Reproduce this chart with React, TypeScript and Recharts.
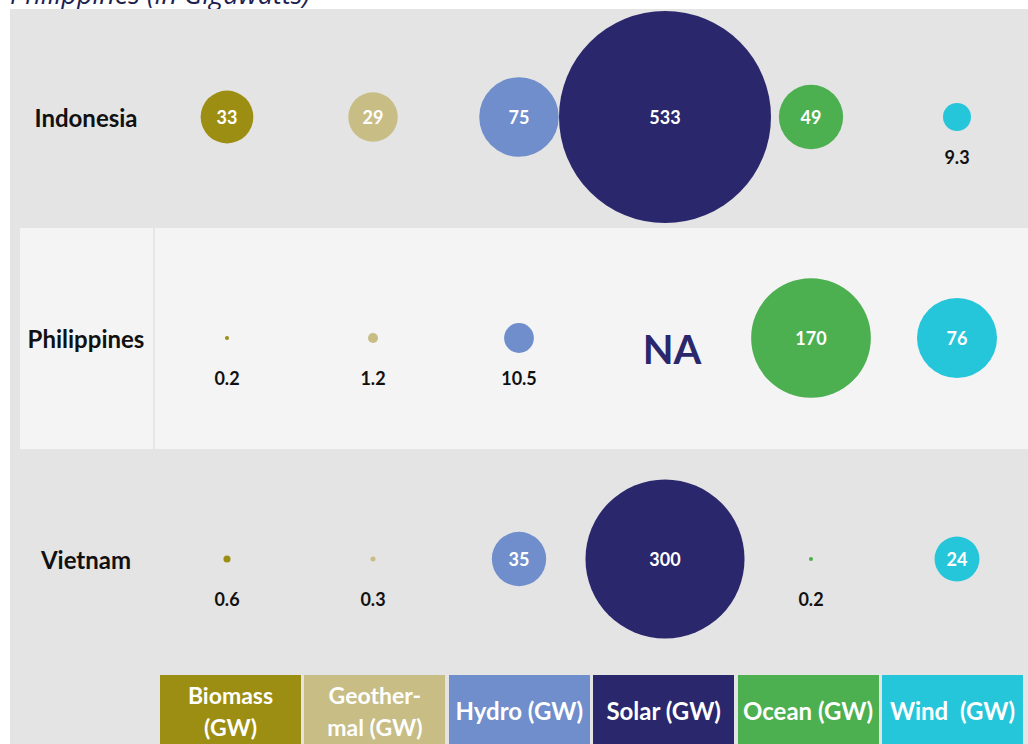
import React from "react";
import { ScatterChart, Scatter, XAxis, YAxis, ZAxis } from "recharts";

const countries = ["Indonesia", "Philippines", "Vietnam"];
const sourceLabels = [
  ["Biomass", "(GW)"],
  ["Geother-", "mal (GW)"],
  ["Hydro (GW)"],
  ["Solar (GW)"],
  ["Ocean (GW)"],
  ["Wind  (GW)"],
];
const biomass = [33, 0.2, 0.6];
const geothermal = [29, 1.2, 0.3];
const hydro = [75, 10.5, 35];
const solar = [533, null, 300];
const ocean = [49, 170, 0.2];
const wind = [9.3, 76, 24];
const colors = ["#9c8e12", "#c7bd85", "#6f8ecb", "#2a276d", "#4caf50", "#26c6da"];

const seriesValues = [biomass, geothermal, hydro, solar, ocean, wind];

const series = seriesValues.map((values, col) => ({
  name: sourceLabels[col].join(" "),
  color: colors[col],
  data: values.map((value, row) => ({ col, row, value })),
}));

const FONT = "Lato, 'Open Sans', sans-serif";

const makeBubble = (color: string) => (props: any) => {
  const { cx, cy, width, payload } = props;
  if (payload.value == null) {
    return (
      <text x={cx + 7} y={cy + 26} textAnchor="middle" fontFamily={FONT}
        fontSize={40} fontWeight={700} fill={color}>
        NA
      </text>
    );
  }
  const r = width / 2;
  const inside = payload.value >= 20;
  return (
    <g>
      <circle cx={cx} cy={cy} r={r} fill={color} />
      <text
        x={cx}
        y={inside ? cy : cy + 40}
        textAnchor="middle"
        dominantBaseline="central"
        fontFamily={FONT}
        fontSize={18}
        fontWeight={700}
        fill={inside ? "#ffffff" : "#111111"}>
        {String(payload.value)}
      </text>
    </g>
  );
};

const CountryTick = ({ y, payload }: any) => (
  <text x={86} y={y} textAnchor="middle" dominantBaseline="central"
    fontFamily={FONT} fontSize={24} fontWeight={700} fill="#111111">
    {countries[payload.value]}
  </text>
);

export default function App() {
  return (
    <div
      style={{
        position: "fixed",
        left: 0,
        top: 0,
        width: 1028,
        height: 744,
        overflow: "hidden",
        background: "#ffffff",
        fontFamily: FONT,
      }}>
      <div
        style={{
          position: "absolute",
          left: 10,
          top: -18,
          fontFamily: "'Open Sans', sans-serif",
          fontSize: 27,
          lineHeight: "24px",
          fontStyle: "italic",
          color: "#1e1e50",
          whiteSpace: "nowrap",
        }}>
        Philippines (in Gigawatts)
      </div>
      <div style={{ position: "absolute", left: 10, top: 9, right: 0, bottom: 0, background: "#e4e4e4" }} />
      <div style={{ position: "absolute", left: 20, top: 228, width: 1008, height: 221, background: "#f4f4f4" }} />
      <div style={{ position: "absolute", left: 153, top: 228, width: 2, height: 221, background: "#e6e6e6" }} />

      <div style={{ position: "absolute", left: 0, top: 0 }}>
        <ScatterChart width={1028} height={744} margin={{ top: 117, right: 71, bottom: 185, left: 0 }}>
          <XAxis type="number" dataKey="col" domain={[0, 5]} hide />
          <YAxis
            type="number"
            dataKey="row"
            domain={[0, 2]}
            ticks={[0, 1, 2]}
            reversed
            width={227}
            axisLine={false}
            tickLine={false}
            tick={<CountryTick />}
          />
          <ZAxis type="number" dataKey="value" domain={[0, 533]} range={[0, Math.PI * 106 * 106]} />
          {series.map((s) => (
            <Scatter
              key={s.name}
              name={s.name}
              data={s.data}
              fill={s.color}
              shape={makeBubble(s.color)}
              isAnimationActive={false}
            />
          ))}
        </ScatterChart>
      </div>

      {sourceLabels.map((lines, i) => (
        <div
          key={i}
          style={{
            position: "absolute",
            left: 160 + i * 144.4,
            top: 675,
            width: 141,
            height: 72,
            background: colors[i],
            color: "#ffffff",
            fontWeight: 700,
            fontSize: lines.length > 1 ? 23 : 24,
            lineHeight: "32px",
            display: "flex",
            flexDirection: "column",
            alignItems: "center",
            justifyContent: "center",
            whiteSpace: "pre",
          }}>
          {lines.map((l) => (
            <span key={l}>{l}</span>
          ))}
        </div>
      ))}
    </div>
  );
}
